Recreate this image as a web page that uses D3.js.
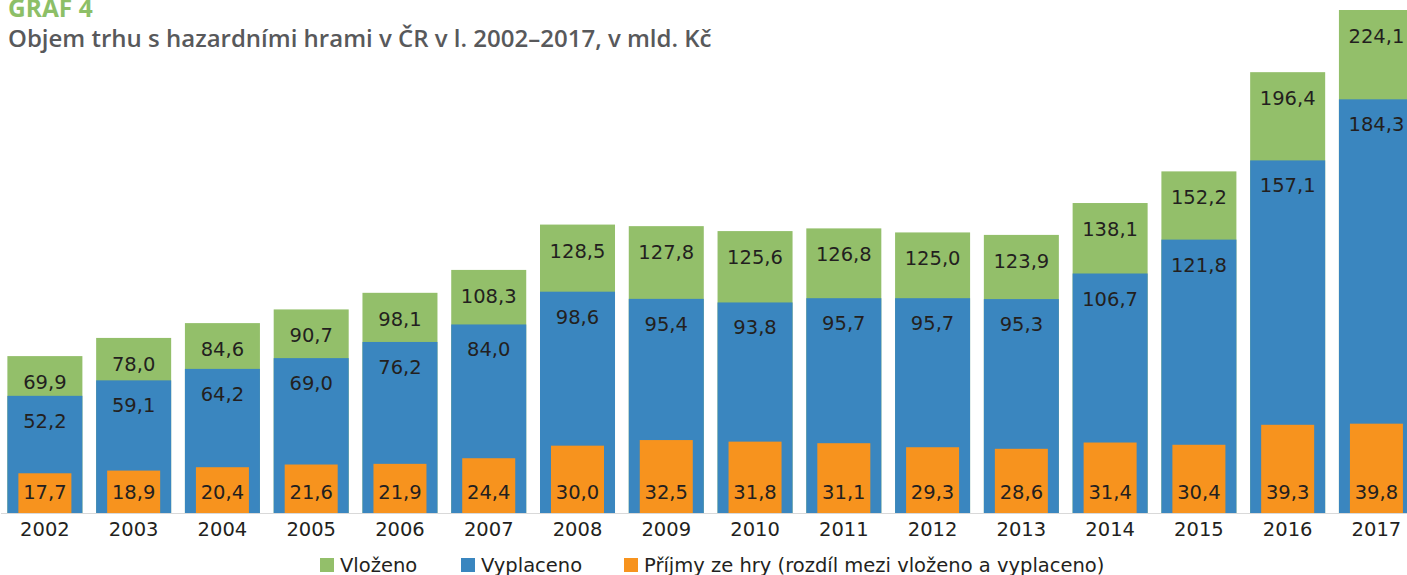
<!DOCTYPE html>
<html lang="cs">
<head>
    <meta charset="UTF-8">
    <title>Graf 4</title>
    <style>
        body { margin: 0; background: #fff; }
        text { font-family: "DejaVu Sans", sans-serif; }
    </style>
</head>
<body>
    <svg width="1407" height="575"></svg>
    <script src="https://cdn.jsdelivr.net/npm/d3@7"></script>
    <script>
        var years = ["2002","2003","2004","2005","2006","2007","2008","2009","2010","2011","2012","2013","2014","2015","2016","2017"];
        var vlozeno = [69.9, 78.0, 84.6, 90.7, 98.1, 108.3, 128.5, 127.8, 125.6, 126.8, 125.0, 123.9, 138.1, 152.2, 196.4, 224.1];
        var vyplaceno = [52.2, 59.1, 64.2, 69.0, 76.2, 84.0, 98.6, 95.4, 93.8, 95.7, 95.7, 95.3, 106.7, 121.8, 157.1, 184.3];
        var prijmy = [17.7, 18.9, 20.4, 21.6, 21.9, 24.4, 30.0, 32.5, 31.8, 31.1, 29.3, 28.6, 31.4, 30.4, 39.3, 39.8];
        var seriesNames = ["Vloženo", "Vyplaceno", "Příjmy ze hry (rozdíl mezi vloženo a vyplaceno)"];
        var colors = ["#93bf6a", "#3a86bf", "#f7931e"];

        var svg = d3.select("svg");
        var baseline = 513;

        var x = d3.scaleBand()
            .domain(years)
            .range([0.5, 0.5 + 16 * 88.77])
            .paddingInner(0.155)
            .paddingOuter(0.0775);

        var y = d3.scaleLinear()
            .domain([0, 224.1])
            .range([baseline, 10]);

        var fmt = function(v){ return d3.format(".1f")(v).replace(".", ","); };

        var data = years.map(function(yr, i){
            return {year: yr, v: vlozeno[i], p: vyplaceno[i], r: prijmy[i]};
        });

        // title
        svg.append("text")
            .attr("x", 8).attr("y", 17)
            .attr("fill", "#8dbf67")
            .style("font-family", "'Open Sans', sans-serif")
            .attr("font-weight", 700)
            .attr("font-size", 24.5)
            .text("GRAF 4");
        svg.append("text")
            .attr("x", 8).attr("y", 47)
            .attr("fill", "#58595b")
            .style("font-family", "'Open Sans', sans-serif")
            .attr("font-weight", 600)
            .attr("font-size", 24)
            .text("Objem trhu s hazardními hrami v ČR v l. 2002–2017, v mld. Kč");

        var g = svg.append("g");
        var bw = x.bandwidth();
        var ow = 53;

        var grp = g.selectAll("g.year")
            .data(data)
            .enter().append("g")
            .attr("class", "year")
            .attr("transform", function(d){ return "translate(" + x(d.year) + ",0)"; });

        grp.append("rect")
            .attr("x", 0).attr("width", bw)
            .attr("y", function(d){ return y(d.v); })
            .attr("height", function(d){ return baseline - y(d.v); })
            .attr("fill", colors[0]);

        grp.append("rect")
            .attr("x", 0).attr("width", bw)
            .attr("y", function(d){ return y(d.p); })
            .attr("height", function(d){ return baseline - y(d.p); })
            .attr("fill", colors[1]);

        grp.append("rect")
            .attr("x", (bw - ow) / 2).attr("width", ow)
            .attr("y", function(d){ return y(d.r); })
            .attr("height", function(d){ return baseline - y(d.r); })
            .attr("fill", colors[2]);

        var lbl = function(sel){
            return sel.attr("x", bw / 2)
                .attr("text-anchor", "middle")
                .attr("font-size", 19.5)
                .attr("fill", "#231f20");
        };

        grp.append("text").call(lbl)
            .attr("y", function(d){ return y(d.v) + 33; })
            .text(function(d){ return fmt(d.v); });
        grp.append("text").call(lbl)
            .attr("y", function(d){ return y(d.p) + 32; })
            .text(function(d){ return fmt(d.p); });
        grp.append("text").call(lbl)
            .attr("y", baseline - 14)
            .text(function(d){ return fmt(d.r); });

        // x axis
        var xAxis = svg.append("g")
            .attr("transform", "translate(0," + baseline + ")")
            .call(d3.axisBottom(x).tickSize(0).tickPadding(9));
        xAxis.select(".domain").attr("stroke", "#d9d9d9");
        xAxis.selectAll("text")
            .attr("font-size", 19.5)
            .attr("fill", "#231f20")
            .style("font-family", "'DejaVu Sans', sans-serif");

        // legend
        var legendX = [320, 461, 624];
        var legend = svg.append("g")
            .selectAll("g")
            .data(seriesNames)
            .enter().append("g")
            .attr("transform", function(d, i){ return "translate(" + legendX[i] + ",558)"; });
        legend.append("rect")
            .attr("width", 14).attr("height", 14)
            .attr("fill", function(d, i){ return colors[i]; });
        legend.append("text")
            .attr("x", 20).attr("y", 14)
            .attr("font-size", 19.5)
            .attr("fill", "#231f20")
            .text(function(d){ return d; });
    </script>
</body>
</html>
